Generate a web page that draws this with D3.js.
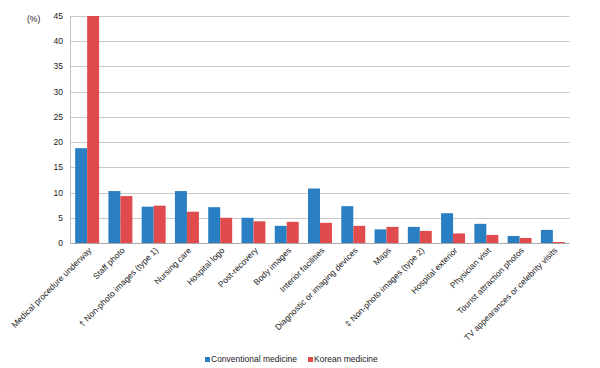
<!DOCTYPE html>
<html><head><meta charset="utf-8">
<script src="https://cdn.jsdelivr.net/npm/d3@7"></script>
<style>body{margin:0;background:#fff;}svg{display:block;font-family:"Liberation Sans",Arial,sans-serif;}</style>
</head><body><svg id="c" width="600" height="368"></svg>
<script>
const categories = ["Medical procedure underway","Staff photo","\u2020 Non-photo images (type 1)","Nursing care","Hospital logo","Post-recovery","Body images","Interior facilities","Diagnostic or imaging devices","Maps","\u2021 Non-photo images (type 2)","Hospital exterior","Physician visit","Tourist attraction photos","TV appearances or celebrity visits"];
const conventional = [18.8,10.3,7.2,10.3,7.1,5.0,3.4,10.8,7.3,2.7,3.2,5.9,3.8,1.4,2.6];
const korean = [45.0,9.3,7.4,6.2,5.0,4.3,4.2,4.0,3.4,3.2,2.4,1.9,1.6,1.0,0.2];
const seriesNames = ["Conventional medicine","Korean medicine"];
const colors = ["#2a7fc2","#e04c4e"];
const yTicks = [0,5,10,15,20,25,30,35,40,45];

const svg = d3.select("#c");
const m = {l:70.5, r:569.5, t:16, b:243};
const fs = 8.5;
const x = d3.scaleBand().domain(categories).range([m.l, m.r]).paddingInner(0.28).paddingOuter(0.14);
const xs = d3.scaleBand().domain([0,1]).range([0, x.bandwidth()]);
const y = d3.scaleLinear().domain([0,45]).range([m.b, m.t]);

// gridlines
svg.append("g").selectAll("line").data(yTicks.filter(d=>d>0)).join("line")
  .attr("x1", m.l).attr("x2", m.r).attr("y1", d=>Math.round(y(d))+0.5).attr("y2", d=>Math.round(y(d))+0.5)
  .attr("stroke","#c9c9c9").attr("stroke-width",1);
// y axis line
svg.append("line").attr("x1",m.l).attr("x2",m.l).attr("y1",m.t).attr("y2",m.b).attr("stroke","#c0c0c0");

// y tick labels
svg.append("g").selectAll("text").data(yTicks).join("text")
  .attr("x", 63).attr("y", d=>y(d)).attr("dy","0.35em").attr("text-anchor","end")
  .attr("font-size",fs).attr("fill","#222").text(d=>d);
svg.append("text").attr("x",27).attr("y",19).attr("dy","0.35em").attr("font-size",fs).attr("fill","#222").text("(%)");

// bars
const data = [conventional, korean];
data.forEach((vals,si)=>{
  svg.append("g").selectAll("rect").data(vals).join("rect")
    .attr("x",(d,i)=>x(categories[i])+xs(si))
    .attr("width",xs.bandwidth())
    .attr("y",d=>y(d)).attr("height",d=>y(0)-y(d))
    .attr("fill",colors[si]);
});
// x axis line
svg.append("line").attr("x1",m.l).attr("x2",m.r).attr("y1",m.b+0.5).attr("y2",m.b+0.5).attr("stroke","#a9a9a9");

// x labels
svg.append("g").selectAll("text").data(categories).join("text")
  .attr("transform", d=>`translate(${x(d)+x.bandwidth()/2+5},${m.b+8}) rotate(-45)`)
  .attr("text-anchor","end").attr("font-size",fs).attr("fill","#222").text(d=>d);

// legend
const leg = [{x:205,n:seriesNames[0],c:colors[0]},{x:308,n:seriesNames[1],c:colors[1]}];
leg.forEach(l=>{
  svg.append("rect").attr("x",l.x).attr("y",357).attr("width",5).attr("height",5).attr("fill",l.c);
  svg.append("text").attr("x",l.x+6).attr("y",359.5).attr("dy","0.35em").attr("font-size",fs).attr("fill","#222").text(l.n);
});
</script></body></html>
